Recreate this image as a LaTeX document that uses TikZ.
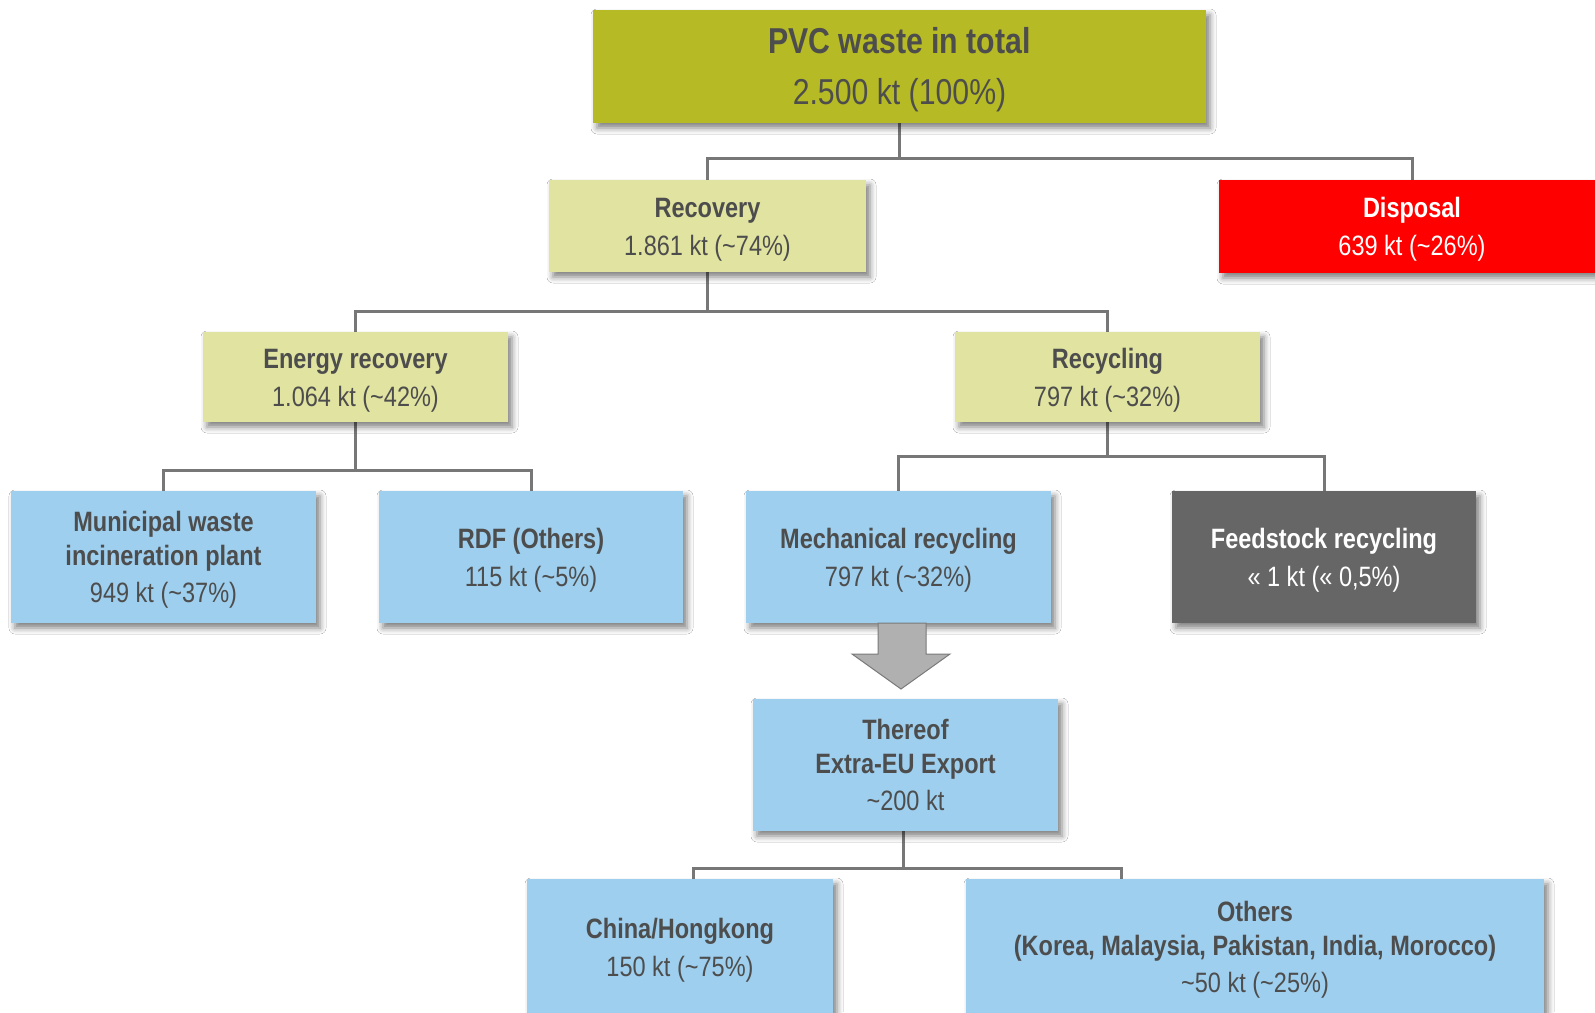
\documentclass[tikz,border=0pt]{standalone}
\usepackage{fontspec}
\setmainfont{Liberation Sans}[FakeStretch=0.84]
\usetikzlibrary{shadows.blur,backgrounds,calc}
\definecolor{cOlive}{HTML}{B6BA24}
\definecolor{cKhaki}{HTML}{E1E3A0}
\definecolor{cBlue}{HTML}{9ECFEE}
\definecolor{cDark}{HTML}{666666}
\definecolor{cRed}{HTML}{FF0000}
\definecolor{cTxt}{HTML}{4D4D4D}
\definecolor{cLine}{HTML}{777777}
\definecolor{cArrow}{HTML}{B0B0B0}
\definecolor{cArrowLine}{HTML}{7A7A7A}
\newcommand\myTS{\rule{0pt}{26.5pt}}
\newcommand\myTSb{\rule{0pt}{32.5pt}}
\begin{document}
\begin{tikzpicture}[x=1pt,y=-1pt,
  box/.style={rectangle, inner sep=0pt, align=center, text=cTxt,
    blur shadow={shadow xshift=4pt, shadow yshift=-5pt, shadow blur radius=6pt, shadow opacity=50}},
  big/.style={font=\fontsize{36}{51}\selectfont},
  two/.style={font=\fontsize{28}{38}\selectfont},
  three/.style={font=\fontsize{28}{34}\selectfont},
  conn/.style={draw=cLine, line width=3pt}]
\useasboundingbox (0,0) rectangle (1595,1012);

\node[box, big, fill=cOlive, minimum width=613pt, minimum height=113pt] (total) at (899.5,66.5)
  {\myTSb\textbf{PVC waste in total}\\2.500 kt (100\%)};
\node[box, two, fill=cKhaki, minimum width=317pt, minimum height=92pt] (recovery) at (707.5,226)
  {\myTS\textbf{Recovery}\\1.861 kt (\textasciitilde74\%)};
\node[box, two, fill=cRed, text=white, minimum width=386pt, minimum height=93pt] (disposal) at (1412,226.5)
  {\myTS\textbf{Disposal}\\639 kt (\textasciitilde26\%)};
\node[box, two, fill=cKhaki, minimum width=305pt, minimum height=90pt] (energy) at (355.5,377)
  {\myTS\textbf{Energy recovery}\\1.064 kt (\textasciitilde42\%)};
\node[box, two, fill=cKhaki, minimum width=305pt, minimum height=90pt] (recycling) at (1107.5,377)
  {\myTS\textbf{Recycling}\\797 kt (\textasciitilde32\%)};
\node[box, three, fill=cBlue, minimum width=305pt, minimum height=132pt] (municipal) at (163.5,557)
  {\myTS\textbf{Municipal waste}\\\textbf{incineration plant}\\[3pt]949 kt (\textasciitilde37\%)};
\node[box, two, fill=cBlue, minimum width=304pt, minimum height=132pt] (rdf) at (531,557)
  {\myTS\textbf{RDF (Others)}\\115 kt (\textasciitilde5\%)};
\node[box, two, fill=cBlue, minimum width=305pt, minimum height=132pt] (mech) at (898.5,557)
  {\myTS\textbf{Mechanical recycling}\\797 kt (\textasciitilde32\%)};
\node[box, two, fill=cDark, text=white, minimum width=304pt, minimum height=132pt] (feed) at (1324,557)
  {\myTS\textbf{Feedstock recycling}\\« 1 kt (« 0,5\%)};
\node[box, three, fill=cBlue, minimum width=305pt, minimum height=132pt] (thereof) at (905.5,765)
  {\myTS\textbf{Thereof}\\\textbf{Extra-EU Export}\\[3pt]\textasciitilde200 kt\vphantom{()}};
\node[box, two, fill=cBlue, minimum width=306pt, minimum height=136pt] (china) at (680,947)
  {\myTS\textbf{China/Hongkong}\\150 kt (\textasciitilde75\%)};
\node[box, three, fill=cBlue, minimum width=578pt, minimum height=136pt] (others) at (1255,947)
  {\myTS\textbf{Others}\\\textbf{(Korea, Malaysia, Pakistan, India, Morocco)}\\[3pt]\textasciitilde50 kt (\textasciitilde25\%)};

% block arrow from mechanical recycling to the export box
\draw[fill=cArrow, draw=cArrowLine, line width=1pt, line join=miter]
  (878,623) -- (926,623) -- (926,654) -- (950,654) -- (901,689) -- (852,654) -- (878,654) -- cycle;

\coordinate (j1) at (0,158);
\coordinate (j2) at (0,311);
\coordinate (j3) at (0,470);
\coordinate (j4) at (0,456);
\coordinate (j5) at (0,868);

\begin{scope}[on background layer]
  \fill[white] (0,0) rectangle (1595,1012);
  \draw[conn] (total.south) -- (total.south |- j1) -| (recovery.north);
  \draw[conn] (total.south |- j1) -| (disposal.north);
  \draw[conn] (recovery.south) -- (recovery.south |- j2) -| (energy.north);
  \draw[conn] (recovery.south |- j2) -| (recycling.north);
  \draw[conn] (energy.south) -- (energy.south |- j3) -| (municipal.north);
  \draw[conn] (energy.south |- j3) -| (rdf.north);
  \draw[conn] (recycling.south) -- (recycling.south |- j4) -| (mech.north);
  \draw[conn] (recycling.south |- j4) -| (feed.north);
  \draw[conn] ([xshift=-2pt]thereof.south) -- ([xshift=-2pt]thereof.south |- j5) -| ([xshift=13pt]china.north);
  \draw[conn] ([xshift=-2pt]thereof.south |- j5) -| ([xshift=-134pt]others.north);
\end{scope}
\end{tikzpicture}
\end{document}
